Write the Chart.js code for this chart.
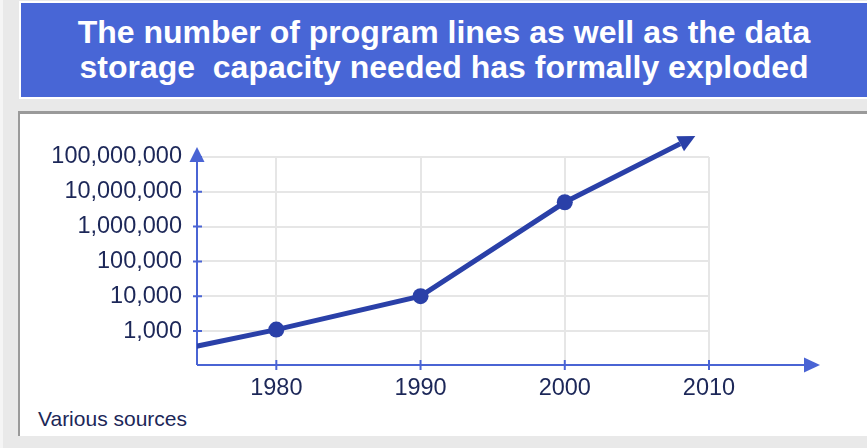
<!DOCTYPE html>
<html>
<head>
<meta charset="utf-8">
<script src="https://cdn.jsdelivr.net/npm/chart.js@4/dist/chart.umd.min.js"></script>
<style>
  html, body { margin: 0; padding: 0; }
  body { width: 867px; height: 448px; overflow: hidden; position: relative; background: #e9e9e9; font-family: "Liberation Sans", Arial, sans-serif; }
  .strip { position: absolute; left: 0; top: 0; width: 3px; height: 448px; background: #f5f5f5; }
  .title { position: absolute; left: 19px; top: 1px; width: 850px; height: 98px; box-sizing: border-box; border: 2px solid #fff; background: #4866d6; color: #fff; font-weight: bold; font-size: 32px; line-height: 35px; text-align: center; padding-top: 12px; white-space: pre; }
  .panel { position: absolute; left: 18px; top: 111px; width: 852px; height: 325px; box-sizing: border-box; background: #fff; border-top: 3px solid #9a9a9a; border-left: 2px solid #9a9a9a; }
  .source { position: absolute; left: 38px; top: 407px; font-size: 21px; line-height: 24px; color: #1c2758; }
  .wrap { position: absolute; left: 0; top: 0; width: 867px; height: 448px; }
</style>
</head>
<body>
<div class="strip"></div>
<div class="title">The number of program lines as well as the data
storage  capacity needed has formally exploded</div>
<div class="panel"></div>
<div class="source">Various sources</div>
<div class="wrap"><canvas id="growthChart"></canvas></div>
<script>
const years = [1970, 1980, 1990, 2000, 2008];
const programLines = [150, 1100, 10000, 5000000, 240000000];
const xTickYears = [1980, 1990, 2000, 2010];
const yTickValues = [1000, 10000, 100000, 1000000, 10000000, 100000000];

const lineColor = '#2a40a8';
const axisColor = '#4a64d4';
const textColor = '#1c2758';
const fontFamily = '"Liberation Sans", Arial, sans-serif';

// axes with arrows, tick marks, and the arrow on the end of the line
const decor = {
    id: 'decor',
    beforeDatasetsDraw(chart) {
        const { ctx, chartArea: a, scales: { x, y } } = chart;
        const axisY = a.bottom + 5;
        ctx.save();
        ctx.strokeStyle = axisColor;
        ctx.fillStyle = axisColor;
        ctx.lineWidth = 2;
        ctx.beginPath();
        ctx.moveTo(a.left, axisY);
        ctx.lineTo(a.left, a.top);
        ctx.moveTo(a.left, axisY);
        ctx.lineTo(a.right + 97, axisY);
        yTickValues.forEach(v => {
            const py = y.getPixelForValue(v);
            ctx.moveTo(a.left - 4, py);
            ctx.lineTo(a.left + 5, py);
        });
        xTickYears.forEach(v => {
            const px = x.getPixelForValue(v);
            ctx.moveTo(px, axisY - 5);
            ctx.lineTo(px, axisY + 5);
        });
        ctx.stroke();
        ctx.beginPath();
        ctx.moveTo(a.left, a.top - 10);
        ctx.lineTo(a.left + 7.5, a.top + 5);
        ctx.lineTo(a.left - 7.5, a.top + 5);
        ctx.closePath();
        ctx.fill();
        ctx.beginPath();
        ctx.moveTo(a.right + 111, axisY);
        ctx.lineTo(a.right + 95, axisY - 7.5);
        ctx.lineTo(a.right + 95, axisY + 7.5);
        ctx.closePath();
        ctx.fill();
        ctx.restore();
    },
    afterDatasetsDraw(chart) {
        const pts = chart.getDatasetMeta(0).data;
        const p = pts[pts.length - 1], q = pts[pts.length - 2];
        const ang = Math.atan2(p.y - q.y, p.x - q.x);
        const ctx = chart.ctx;
        ctx.save();
        ctx.fillStyle = lineColor;
        ctx.translate(p.x, p.y);
        ctx.rotate(ang);
        ctx.beginPath();
        ctx.moveTo(17, 0);
        ctx.lineTo(0, -8.5);
        ctx.lineTo(0, 8.5);
        ctx.closePath();
        ctx.fill();
        ctx.restore();
    }
};

const ctx = document.getElementById('growthChart').getContext('2d');
new Chart(ctx, {
    type: 'line',
    data: {
        datasets: [{
            data: years.map((yr, i) => ({ x: yr, y: programLines[i] })),
            borderColor: lineColor,
            backgroundColor: lineColor,
            borderWidth: 5,
            tension: 0,
            pointRadius: c => (c.dataIndex === 0 || c.dataIndex === years.length - 1) ? 0 : 8,
            pointBorderWidth: 0,
            pointBackgroundColor: lineColor,
            clip: { left: 0, top: false, right: false, bottom: false }
        }]
    },
    options: {
        responsive: true,
        maintainAspectRatio: false,
        animation: false,
        layout: { padding: { left: 0, top: 157, right: 158, bottom: 0 } },
        plugins: { legend: { display: false }, tooltip: { enabled: false } },
        scales: {
            x: {
                type: 'linear',
                min: 1974.5,
                max: 2010,
                afterBuildTicks: s => { s.ticks = xTickYears.map(v => ({ value: v })); },
                afterFit: s => { s.height = 88; },
                border: { display: false },
                grid: { color: '#e6e6e6', lineWidth: 2, drawTicks: false },
                ticks: {
                    padding: 14, autoSkip: false, maxRotation: 0,
                    color: textColor, font: { family: fontFamily, size: 23.5 },
                    callback: v => String(v)
                }
            },
            y: {
                type: 'logarithmic',
                min: 147,
                max: 100000000,
                afterBuildTicks: s => { s.ticks = yTickValues.map(v => ({ value: v })); },
                afterFit: s => { s.width = 197; },
                border: { display: false },
                grid: { color: '#e6e6e6', lineWidth: 2, drawTicks: false },
                ticks: {
                    padding: 15, autoSkip: false,
                    color: textColor, font: { family: fontFamily, size: 23.5 },
                    callback: v => Number(v).toLocaleString('en-US')
                }
            }
        }
    },
    plugins: [decor]
});
</script>
</body>
</html>
